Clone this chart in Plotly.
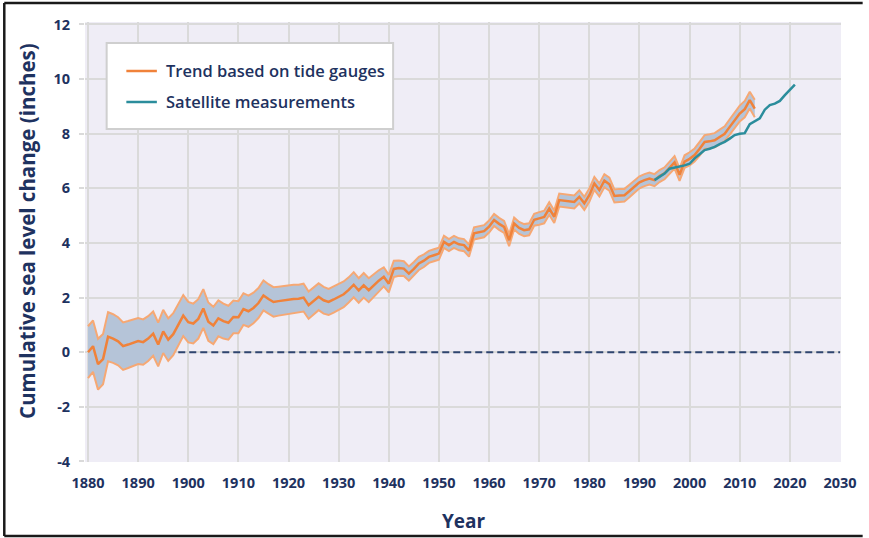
import plotly.graph_objects as go

# ---- data ----
tide_years = list(range(1880, 2014))
tide_values = [
    0.00, 0.22, -0.44, -0.25, 0.57, 0.50, 0.40, 0.22, 0.28, 0.34,   # 1880s
    0.41, 0.37, 0.50, 0.68, 0.28, 0.76, 0.46, 0.66, 0.98, 1.34,     # 1890s
    1.10, 1.05, 1.22, 1.60, 1.12, 0.98, 1.24, 1.14, 1.08, 1.29,     # 1900s
    1.28, 1.58, 1.50, 1.62, 1.80, 2.08, 1.95, 1.84, 1.87, 1.90,     # 1910s
    1.93, 1.95, 1.96, 2.00, 1.72, 1.88, 2.03, 1.90, 1.84, 1.93,     # 1920s
    2.03, 2.12, 2.28, 2.47, 2.26, 2.45, 2.27, 2.45, 2.62, 2.76,     # 1930s
    2.51, 3.05, 3.08, 3.06, 2.88, 3.05, 3.25, 3.35, 3.49, 3.55,     # 1940s
    3.61, 4.04, 3.92, 4.04, 3.95, 3.92, 3.72, 4.35, 4.38, 4.43,     # 1950s
    4.60, 4.84, 4.70, 4.59, 4.10, 4.71, 4.55, 4.47, 4.50, 4.85,     # 1960s
    4.90, 4.95, 5.26, 4.96, 5.57, 5.55, 5.52, 5.50, 5.69, 5.45,     # 1970s
    5.75, 6.18, 5.94, 6.28, 6.15, 5.72, 5.74, 5.75, 5.90, 6.05,     # 1980s
    6.22, 6.30, 6.36, 6.30, 6.45, 6.55, 6.75, 6.95, 6.50, 6.98,     # 1990s
    7.08, 7.22, 7.45, 7.70, 7.72, 7.76, 7.88, 8.00, 8.25, 8.50,     # 2000s
    8.74, 8.90, 9.23, 8.92,                                         # 2010s
]
tide_error = [
    0.95, 0.94, 0.93, 0.92, 0.90, 0.89, 0.88, 0.87, 0.86, 0.85,
    0.84, 0.83, 0.82, 0.81, 0.80, 0.79, 0.78, 0.77, 0.76, 0.75,
    0.74, 0.73, 0.72, 0.71, 0.70, 0.68, 0.66, 0.64, 0.62, 0.60,
    0.59, 0.58, 0.57, 0.56, 0.55, 0.55, 0.54, 0.54, 0.53, 0.53,
    0.52, 0.52, 0.51, 0.51, 0.50, 0.50, 0.49, 0.49, 0.48, 0.48,
    0.47, 0.47, 0.46, 0.46, 0.45, 0.45, 0.44, 0.42, 0.38, 0.35,
    0.32, 0.30, 0.28, 0.27, 0.26, 0.25, 0.24, 0.23, 0.22, 0.22,
    0.22, 0.22, 0.22, 0.22, 0.22, 0.22, 0.22, 0.22, 0.22, 0.22,
    0.22, 0.22, 0.22, 0.22, 0.22, 0.22, 0.22, 0.22, 0.22, 0.22,
    0.23, 0.23, 0.23, 0.23, 0.24, 0.24, 0.24, 0.24, 0.24, 0.24,
    0.24, 0.24, 0.24, 0.24, 0.24, 0.24, 0.24, 0.23, 0.23, 0.23,
    0.22, 0.22, 0.22, 0.22, 0.22, 0.22, 0.23, 0.23, 0.23, 0.23,
    0.24, 0.24, 0.25, 0.25, 0.26, 0.26, 0.27, 0.27, 0.28, 0.28,
    0.29, 0.30, 0.31, 0.32,
]
sat_years = list(range(1993, 2022))
sat_values = [
    6.30, 6.42, 6.54, 6.72, 6.76, 6.78, 6.84, 6.90, 7.10, 7.25,
    7.40, 7.45, 7.52, 7.62, 7.70, 7.82, 7.95, 8.00, 8.02, 8.35,
    8.45, 8.56, 8.88, 9.05, 9.10, 9.20, 9.41, 9.60, 9.80,
]
baseline_years = [1898, 2030]
baseline_values = [0, 0]

x_ticks = list(range(1880, 2031, 10))
y_ticks = [-4, -2, 0, 2, 4, 6, 8, 10, 12]
y_ticktext = ["-4", "-2", "0", "2", "4", "6", "8", "10", "12"]

series_names = ["Trend based on tide gauges", "Satellite measurements"]
x_title = "Year"
y_title = "Cumulative sea level change (inches)"

# ---- styles ----
NAVY = "#1e3260"
ORANGE = "#f0823a"
ORANGE_EDGE = "#f6a874"
TEAL = "#2b8d9c"
FILL = "#b5c4d8"
GRID = "#dadada"
FONT = "Open Sans"

lower = [v - e for v, e in zip(tide_values, tide_error)]
upper = [v + e for v, e in zip(tide_values, tide_error)]

fig = go.Figure()
fig.add_trace(go.Scatter(x=tide_years, y=lower, mode="lines",
                         line=dict(color=ORANGE_EDGE, width=2),
                         showlegend=False, hoverinfo="skip"))
fig.add_trace(go.Scatter(x=tide_years, y=upper, mode="lines", fill="tonexty",
                         fillcolor=FILL, line=dict(color=ORANGE_EDGE, width=2),
                         showlegend=False, hoverinfo="skip"))
fig.add_trace(go.Scatter(x=baseline_years, y=baseline_values, mode="lines",
                         line=dict(color="#2f4570", width=2, dash="7px,4px"),
                         showlegend=False))
fig.add_trace(go.Scatter(x=tide_years, y=tide_values, mode="lines",
                         name=series_names[0],
                         line=dict(color=ORANGE, width=2.5), showlegend=False))
fig.add_trace(go.Scatter(x=sat_years, y=sat_values, mode="lines",
                         name=series_names[1],
                         line=dict(color=TEAL, width=2.5), showlegend=False))

# plot area in pixels: x 85..853, y 22..462
L, R, T, B = 85, 853, 22, 462
W, H = R - L, B - T


def px(x):
    return (x - L) / W


def py(y):
    return (B - y) / H


FRAME = dict(color="#1a1a1a", width=2.5)
shapes = [
    # outer frame: top, left, bottom (right side runs off the picture)
    dict(type="line", xref="paper", yref="paper", x0=px(3), x1=px(875),
         y0=py(3), y1=py(3), line=FRAME, layer="above"),
    dict(type="line", xref="paper", yref="paper", x0=px(3), x1=px(3),
         y0=py(3), y1=py(536), line=FRAME, layer="above"),
    dict(type="line", xref="paper", yref="paper", x0=px(3), x1=px(875),
         y0=py(536), y1=py(536), line=FRAME, layer="above"),
    # legend box
    dict(type="rect", xref="paper", yref="paper",
         x0=px(107), x1=px(398), y0=py(129), y1=py(43),
         line=dict(color="#cfcfcf", width=2), fillcolor="white", layer="above"),
    dict(type="line", xref="paper", yref="paper",
         x0=px(127), x1=px(158), y0=py(71), y1=py(71),
         line=dict(color=ORANGE, width=2.5), layer="above"),
    dict(type="line", xref="paper", yref="paper",
         x0=px(127), x1=px(158), y0=py(102), y1=py(102),
         line=dict(color=TEAL, width=2.5), layer="above"),
]

annotations = [
    dict(xref="paper", yref="paper", x=px(165), y=py(71), text=series_names[0],
         showarrow=False, xanchor="left", yanchor="middle",
         font=dict(family=FONT, size=16.5, color=NAVY, weight=600)),
    dict(xref="paper", yref="paper", x=px(165), y=py(102), text=series_names[1],
         showarrow=False, xanchor="left", yanchor="middle",
         font=dict(family=FONT, size=16.5, color=NAVY, weight=600)),
    dict(xref="paper", yref="paper", x=px(470), y=py(521), text=x_title,
         showarrow=False, xanchor="center", yanchor="middle",
         font=dict(family=FONT, size=19, color=NAVY, weight=700)),
    dict(xref="paper", yref="paper", x=px(26), y=py(231), text=y_title,
         showarrow=False, xanchor="center", yanchor="middle", textangle=-90,
         font=dict(family=FONT, size=20.5, color=NAVY, weight=700)),
]

fig.update_layout(
    width=869, height=538,
    margin=dict(l=L, r=869 - R, t=T, b=538 - B),
    paper_bgcolor="white",
    plot_bgcolor="#efedf6",
    shapes=shapes,
    annotations=annotations,
    showlegend=False,
)
fig.update_xaxes(range=[1879.4, 2030.2], tickvals=x_ticks,
                 showgrid=True, gridcolor=GRID, gridwidth=2,
                 zeroline=False, showline=False, ticks="",
                 ticklabelstandoff=10,
                 tickfont=dict(family=FONT, size=14.5, color=NAVY, weight=700))
fig.update_yaxes(range=[-4.02, 12.09], tickvals=y_ticks, ticktext=y_ticktext,
                 showgrid=True, gridcolor=GRID, gridwidth=2,
                 zeroline=False, showline=False, ticks="outside", ticklen=5,
                 tickcolor=GRID, tickwidth=2, ticklabelstandoff=6,
                 tickfont=dict(family=FONT, size=14.5, color=NAVY, weight=700))

fig.write_html(
    "out.html",
    config={"displayModeBar": False},
    post_script="document.body.style.margin='0';document.body.style.overflow='hidden';",
)
